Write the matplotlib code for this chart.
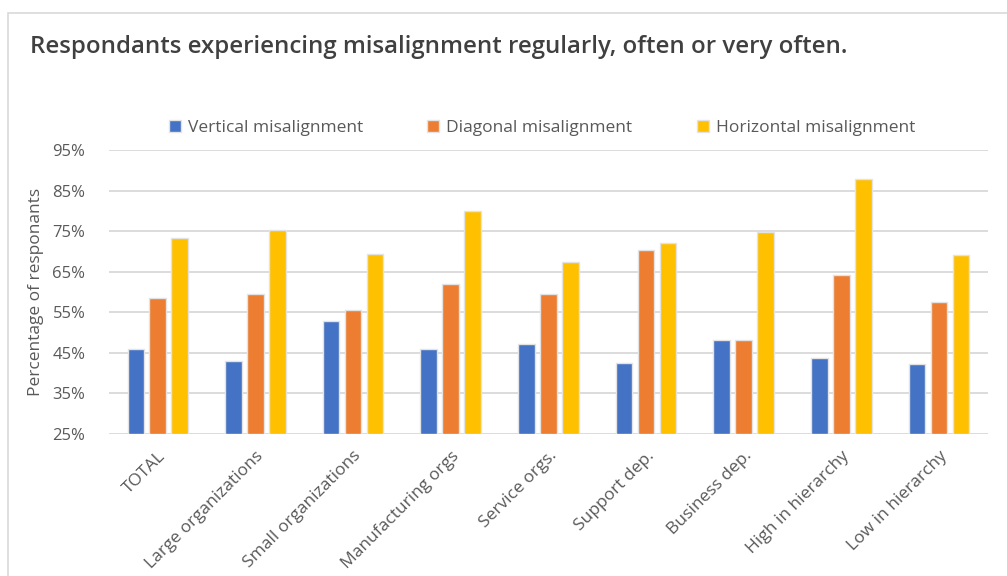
import matplotlib.pyplot as plt
import numpy as np
from matplotlib.patches import Rectangle
from matplotlib.ticker import FuncFormatter

# Share of respondants per group (%)
groups = ['TOTAL', 'Large organizations', 'Small organizations', 'Manufacturing orgs',
          'Service orgs.', 'Support dep.', 'Business dep.', 'High in hierarchy',
          'Low in hierarchy']
vertical = [46.0, 42.9, 52.8, 46.0, 47.3, 42.5, 48.1, 43.8, 42.2]
diagonal = [58.4, 59.6, 55.6, 61.9, 59.4, 70.4, 48.1, 64.1, 57.5]
horizontal = [73.3, 75.2, 69.3, 80.0, 67.4, 72.1, 74.8, 87.9, 69.2]
series_names = ['Vertical misalignment', 'Diagonal misalignment', 'Horizontal misalignment']
y_ticks = [25, 35, 45, 55, 65, 75, 85, 95]

colors = ['#4472C4', '#ED7D31', '#FFC000']
text_color = '#595959'
plt.rcParams['font.family'] = ['Open Sans', 'DejaVu Sans']

fig = plt.figure(figsize=(10.07, 5.76), dpi=100)
ax = fig.add_axes([0.1082, 0.2465, 0.8728, 0.4931])

# outer chart frame
fig.patches.append(Rectangle((8 / 1007, -0.05), 1.1, 1 - 13 / 576 + 0.05,
                             transform=fig.transFigure, fill=False,
                             edgecolor='#d9d9d9', linewidth=1.2, zorder=0))

x = np.arange(len(groups))
width = 0.17
step = 0.225
for i, (vals, name, c) in enumerate(zip([vertical, diagonal, horizontal], series_names, colors)):
    ax.bar(x + (i - 1) * step, [v - 25 for v in vals], width, bottom=25, color=c,
           edgecolor='#e3e3e3', linewidth=1.0, label=name, zorder=3)

ax.set_xlim(-0.5, len(groups) - 0.5)
ax.set_ylim(25, 95)
ax.set_yticks(y_ticks)
ax.yaxis.set_major_formatter(FuncFormatter(lambda v, p: f'{v:.0f}%'))
ax.grid(axis='y', color='#d9d9d9', linewidth=1.3, zorder=0)
for s in ax.spines.values():
    s.set_visible(False)
ax.tick_params(length=0, labelsize=12, colors=text_color, pad=17)
ax.tick_params(axis='x', pad=10)
ax.set_xticks(x)
ax.set_xticklabels(groups, rotation=45, ha='right', rotation_mode='anchor',
                   fontsize=12.5, color=text_color)
ax.set_ylabel('Percentage of responants', fontsize=12.5, color=text_color, labelpad=6)

fig.text(30 / 1007, 1 - 47 / 576, 'Respondants experiencing misalignment regularly, often or very often.',
         fontsize=17.3, fontweight='semibold', color='#404040', va='center', ha='left')

fig.legend(loc='center', bbox_to_anchor=(542 / 1007, 1 - 128 / 576), ncol=3, frameon=False,
           fontsize=12.5, handlelength=0.7, handleheight=0.7, handletextpad=0.4,
           columnspacing=3.7, labelcolor=text_color)

fig.savefig('out.png', dpi=100)
